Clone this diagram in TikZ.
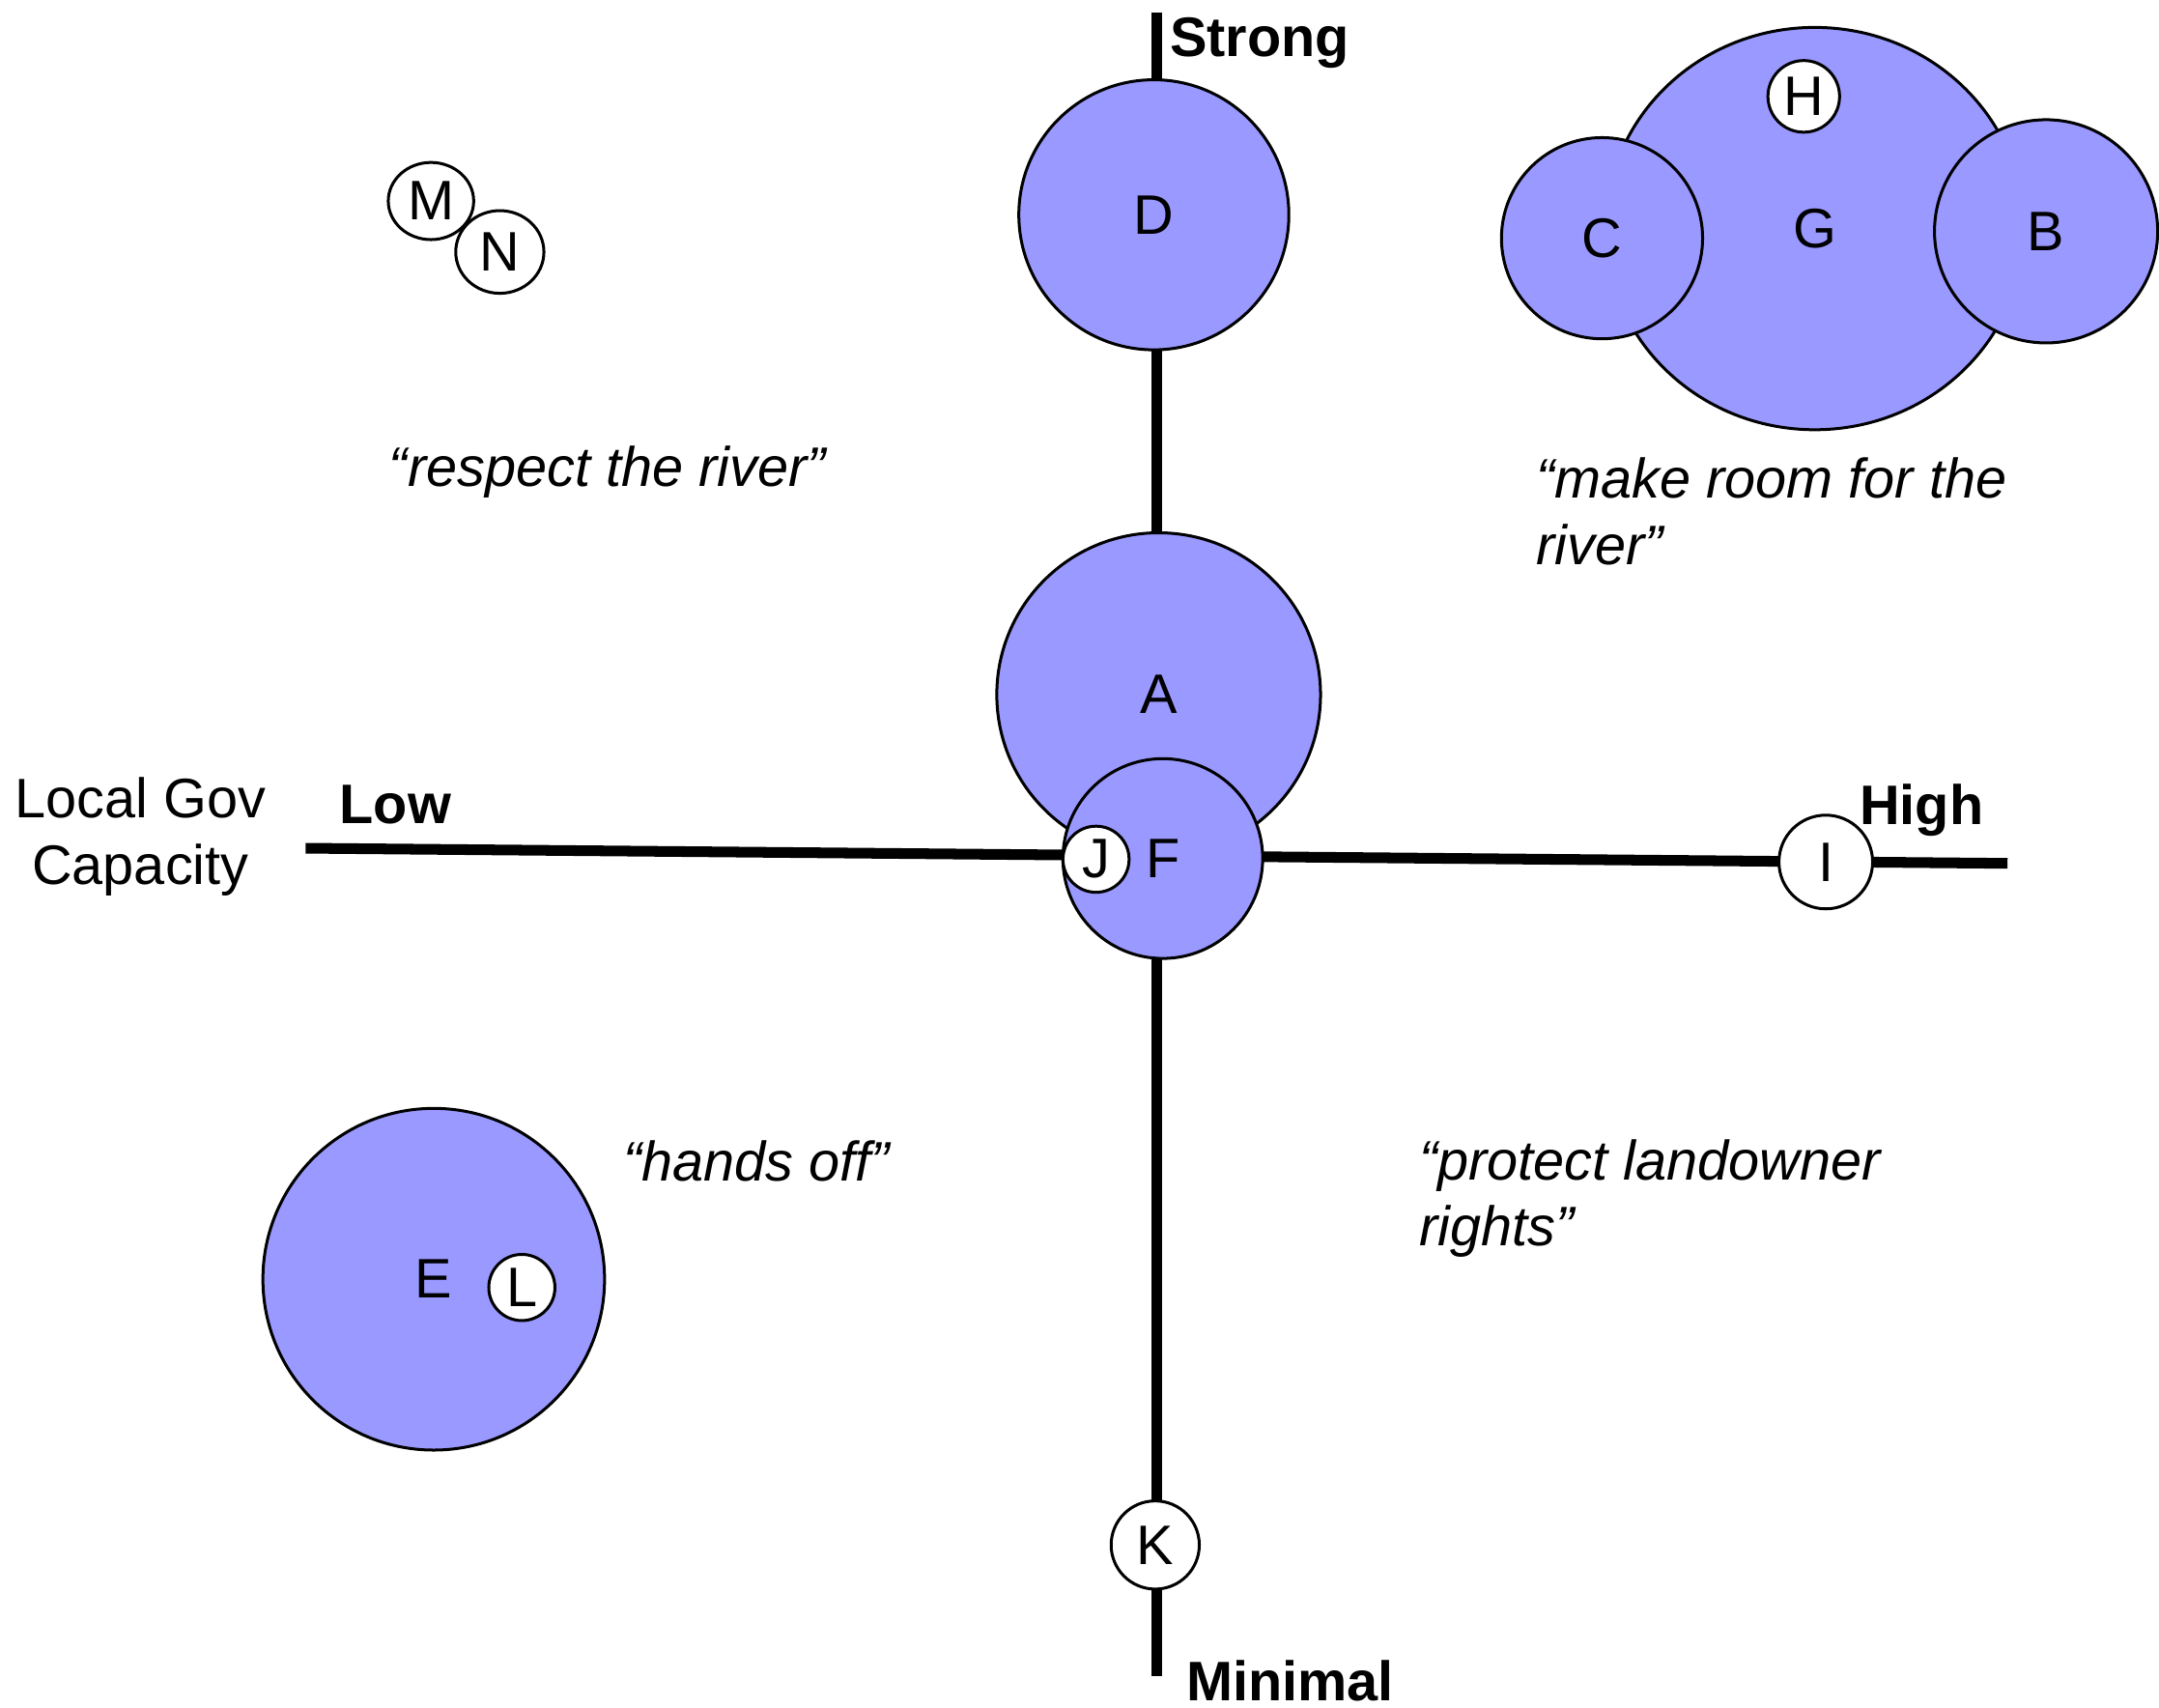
\documentclass[tikz,border=0pt]{standalone}
\usepackage{fontspec}
\setmainfont{Liberation Sans}
\usetikzlibrary{shapes.geometric}
\definecolor{blobfill}{RGB}{153,153,255}
\begin{document}
\begin{tikzpicture}[x=0.01cm,y=-0.01cm,
  txt/.style={font=\fontsize{11.5}{13.7}\selectfont, inner sep=0pt},
  axlab/.style={font=\fontsize{11.5}{13.7}\selectfont\bfseries, inner sep=0pt},
  quote/.style={font=\fontsize{11.5}{13.7}\selectfont\itshape, inner sep=0pt},
  blob/.style={circle, draw=black, line width=0.6pt, fill=blobfill, inner sep=0pt, font=\fontsize{11.5}{13.7}\selectfont},
  oblob/.style={ellipse, draw=black, line width=0.6pt, fill=blobfill, inner sep=0pt, font=\fontsize{11.5}{13.7}\selectfont},
  wdot/.style={circle, draw=black, line width=0.6pt, fill=white, inner sep=0pt, font=\fontsize{11.5}{13.7}\selectfont},
  wodot/.style={ellipse, draw=black, line width=0.6pt, fill=white, inner sep=0pt, font=\fontsize{11.5}{13.7}\selectfont},
  axisline/.style={line width=2.2pt, draw=black}
]
\useasboundingbox (0,0) rectangle (1568,1240);

% axes
\coordinate (vtop) at (840,9);
\coordinate (vbot) at (840,1217);
\coordinate (hleft) at (222,616);
\coordinate (hright) at (1458,627);
\draw[axisline] (vtop) -- (vbot);
\draw[axisline] (hleft) -- (hright);

% axis labels
\node[axlab, anchor=base west] (strong) at (849,41) {Strong};
\node[axlab, anchor=base west] (minimal) at (861,1235) {Minimal};
\node[axlab, anchor=base west] (low) at (246,598) {Low};
\node[axlab, anchor=base west] (high) at (1350,599) {High};
\node[txt, anchor=base, align=center] (lgc) at (102,642) {Local Gov\\Capacity};

% quadrant quotes
\node[quote, anchor=base west] (q1) at (282,353) {“respect the river”};
\node[quote, anchor=base west, align=left] (q2) at (1115,410) {“make room for the\\river”};
\node[quote, anchor=base west] (q3) at (452,858) {“hands off”};
\node[quote, anchor=base west, align=left] (q4) at (1030,905) {“protect landowner\\rights”};

% circles
\node[blob, minimum size=1.96cm] (D) at (838,156) {D};
\node[blob, minimum size=2.35cm] (A) at (841.5,504.5) {A};
\node[blob, minimum size=1.45cm] (F) at (844.5,623.5) {F};
\node[wdot, minimum size=0.48cm] (J) at (796,624) {J};

\node[oblob, minimum width=3.04cm, minimum height=2.92cm] (G) at (1318,166) {G};
\node[blob, minimum size=1.46cm] (C) at (1163.5,173) {C};
\node[blob, minimum size=1.62cm] (B) at (1486,168) {B};
\node[wdot, minimum size=0.52cm] (H) at (1310,70) {H};

\node[blob, minimum size=2.48cm] (E) at (315,929) {E};
\node[wdot, minimum size=0.48cm] (L) at (379,935) {L};

\node[wodot, minimum width=0.62cm, minimum height=0.56cm] (M) at (313,146) {M};
\node[wodot, minimum width=0.64cm, minimum height=0.60cm] (N) at (363,183) {N};

\node[wdot, minimum size=0.64cm] (K) at (839,1122) {K};
\node[wdot, minimum size=0.68cm] (I) at (1326,626) {I};
\end{tikzpicture}
\end{document}
